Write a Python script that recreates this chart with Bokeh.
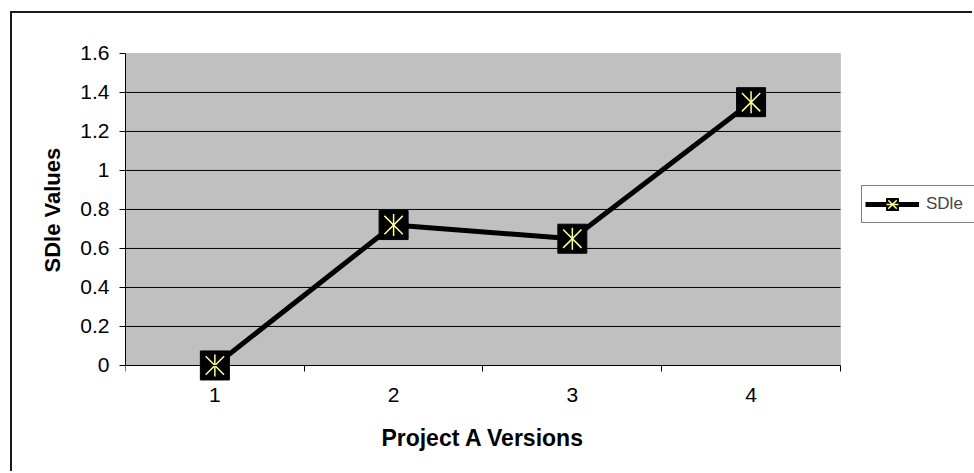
import math

from bokeh.plotting import figure
from bokeh.models import (Range1d, FixedTicker, NumeralTickFormatter, Legend,
                          LegendItem, BoxAnnotation, Title)
from bokeh.embed import file_html
from bokeh.resources import INLINE

# Chart data
versions = [1, 2, 3, 4]
version_labels = ["1", "2", "3", "4"]
sdle = [0.0, 0.72, 0.65, 1.35]
y_ticks = [0, 0.2, 0.4, 0.6, 0.8, 1.0, 1.2, 1.4, 1.6]
series_name = "SDle"
x_title = "Project A Versions"
y_title = "SDle Values"

FONT = "Liberation Sans"
X_LO, X_HI = 0.5, 4.5
Y_LO, Y_HI = 0.0, 1.6

# The frame spans the whole chart area to the right of the value axis, so
# markers at the plot-area edges, the category axis and the legend are never
# clipped; the grey plot area itself is drawn as a box in data space.
p = figure(
    width=962, height=460,
    output_backend="svg", toolbar_location=None,
    x_range=Range1d(X_LO, 5.25), y_range=Range1d(-0.554, 1.61),
    min_border_left=113, min_border_right=0,
    min_border_top=38, min_border_bottom=0,
)
# outer chart border (left / top edges visible in the window)
p.styles = {
    "margin-left": "10px",
    "margin-top": "11px",
    "border-left": "2px solid #1a1a1a",
    "border-top": "2px solid #1a1a1a",
}

p.background_fill_color = "white"
p.border_fill_color = "white"
p.outline_line_color = None

plot_area = BoxAnnotation(left=X_LO, right=X_HI, bottom=Y_LO, top=Y_HI,
                          fill_color="#C0C0C0", fill_alpha=1,
                          line_color="#808080", line_width=1, level="image")
p.add_layout(plot_area)

# horizontal grid lines across the plot area only
grid_ys = y_ticks[1:-1]
p.segment(x0=[X_LO] * len(grid_ys), y0=grid_ys,
          x1=[X_HI] * len(grid_ys), y1=grid_ys,
          line_color="black", line_width=1, level="underlay")
p.xgrid.visible = False
p.ygrid.visible = False

# category axis: labels at centres, tick marks between categories
p.xaxis.fixed_location = Y_LO
p.xaxis.bounds = (X_LO, X_HI)
p.xaxis.ticker = FixedTicker(ticks=versions, minor_ticks=[0.5, 1.5, 2.5, 3.5, 4.5])
p.xaxis.major_label_overrides = dict(zip(versions, version_labels))
p.xaxis.major_tick_out = 0
p.xaxis.major_tick_in = 0
p.xaxis.minor_tick_out = 6
p.xaxis.minor_tick_in = 0
p.xaxis.major_label_standoff = 17
p.xaxis.axis_label = x_title
p.xaxis.axis_label_standoff = 19

p.yaxis.bounds = (Y_LO, Y_HI)
p.yaxis.ticker = FixedTicker(ticks=y_ticks, minor_ticks=[])
p.yaxis.formatter = NumeralTickFormatter(format="0.[0]")
p.yaxis.major_tick_out = 6
p.yaxis.major_tick_in = 0
p.yaxis.minor_tick_out = 0
p.yaxis.minor_tick_in = 0
p.yaxis.major_label_standoff = 10

for ax in (p.xaxis, p.yaxis):
    ax.axis_line_color = "black"
    ax.axis_line_width = 1
    ax.major_tick_line_color = "black"
    ax.minor_tick_line_color = "black"
    ax.major_label_text_font = FONT
    ax.major_label_text_font_size = "21px"
    ax.major_label_text_color = "black"
    ax.axis_label_text_font = FONT
    ax.axis_label_text_font_size = "23px"
    ax.axis_label_text_font_style = "bold"
    ax.axis_label_text_color = "black"

# value-axis title, placed beside the plot area rather than the whole frame
y_label = Title(text=y_title, align="left", offset=201, standoff=26,
                text_font=FONT, text_font_size="22px", text_font_style="bold",
                text_color="black")
p.add_layout(y_label, "left")

# series: thick black line with black square markers and a pale yellow star
line_r = p.line(versions, sdle, line_color="black", line_width=5)
sq_r = p.scatter(versions, sdle, marker="square", size=29,
                 fill_color="black", line_color="black")
x_r = p.scatter(versions, sdle, marker="x", size=26,
                line_color="#FFFF99", line_width=1.5)
v_r = p.scatter(versions, sdle, marker="dash", angle=math.pi / 2, size=22,
                line_color="#FFFF99", line_width=1.5)

legend = Legend(
    items=[LegendItem(label=series_name, renderers=[line_r, sq_r, x_r, v_r])],
    location=(736, 250),
    border_line_color="black", border_line_width=1,
    background_fill_color="white", background_fill_alpha=1,
    label_text_font=FONT, label_text_font_size="17px",
    glyph_width=54, glyph_height=30, padding=3, margin=0,
    label_standoff=7, label_width=60, spacing=0,
)
p.add_layout(legend)

open("out.html", "w").write(file_html(p, INLINE))
